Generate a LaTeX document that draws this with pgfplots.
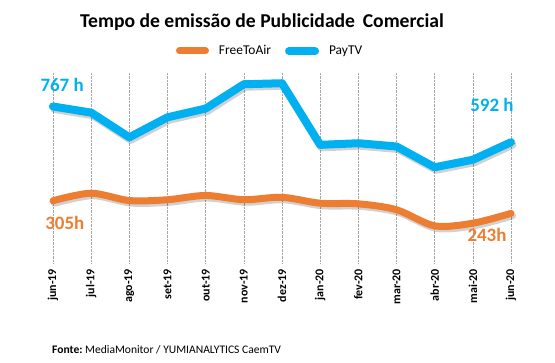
\documentclass[border=0pt]{standalone}
\usepackage{pgfplots}
\pgfplotsset{compat=1.18}
\usepackage{fontspec}
\setmainfont{Carlito}
\definecolor{ftablue}{HTML}{00B0F0}
\definecolor{ftaorange}{HTML}{ED7D31}
\pgfplotstableread{
x pay fta
0 767 305
1 737 342
2 616 306
3 714 310
4 757 331
5 876 310
6 881 322
7 579 293
8 587 290
9 571 261
10 469 182
11 506 195
12 592 243
}\datatable
\begin{document}
\begin{tikzpicture}
\useasboundingbox (0,0) rectangle (555bp,363bp);
\begin{axis}[
  at={(33.9bp,100bp)}, anchor=south west,
  scale only axis, width=496.2bp, height=191bp,
  xmin=-0.5, xmax=12.5, ymin=0, ymax=936,
  hide y axis,
  axis x line=bottom,
  x axis line style={draw=none},
  major tick length=0pt,
  clip=false,
  xtick={0,...,12},
  xticklabels={jun-19,jul-19,ago-19,set-19,out-19,nov-19,dez-19,jan-20,fev-20,mar-20,abr-20,mai-20,jun-20},
  xticklabel style={rotate=90, anchor=east, font=\bfseries\fontsize{12}{12}\selectfont, inner sep=0pt},
  every tick label/.append style={yshift=-6bp},
  xmajorgrids,
  major grid style={gray!70, densely dotted, line width=0.6bp},
  legend style={draw=none, fill=none, at={(0.476,1.11)}, anchor=center,
    font=\fontsize{13.5}{14}\selectfont,
    /tikz/every odd column/.append style={column sep=8bp},
    /tikz/every even column/.append style={column sep=12bp}},
  legend columns=2,
  legend image code/.code={\draw[#1, line cap=round] (0bp,0bp) -- (26bp,0bp);},
]
% shadows
\addplot[forget plot, smooth, black, opacity=0.18, line width=7bp, line cap=round, shift={(1.5bp,-2.5bp)}] table[x=x,y=fta]{\datatable};
\addplot[forget plot, black, opacity=0.18, line width=8bp, line cap=round, line join=round, shift={(1.5bp,-2.5bp)}] table[x=x,y=pay]{\datatable};
\addplot[smooth, ftaorange, line width=7bp, line cap=round] table[x=x,y=fta]{\datatable};
\addlegendentry{FreeToAir}
\addplot[ftablue, line width=8bp, line cap=round, line join=round] table[x=x,y=pay]{\datatable};
\addlegendentry{PayTV}
\node[ftablue, font=\bfseries\fontsize{19}{20}\selectfont] at (axis cs:0.24,875) {767 h};
\node[ftablue, font=\bfseries\fontsize{19}{20}\selectfont] at (axis cs:11.5,777) {592 h};
\node[ftaorange, font=\bfseries\fontsize{19}{20}\selectfont] at (axis cs:0.31,198) {305h};
\node[ftaorange, font=\bfseries\fontsize{19}{20}\selectfont] at (axis cs:11.37,140) {243h};
\end{axis}
\node[font=\bfseries\fontsize{19.7}{22}\selectfont] at (262bp,341bp) {Tempo de emissão de Publicidade\, Comercial};
\node[anchor=west, font=\fontsize{11.6}{13}\selectfont, inner sep=0pt] at (52bp,13bp) {\textbf{Fonte:}\ MediaMonitor / YUMIANALYTICS CaemTV};
\end{tikzpicture}
\end{document}
